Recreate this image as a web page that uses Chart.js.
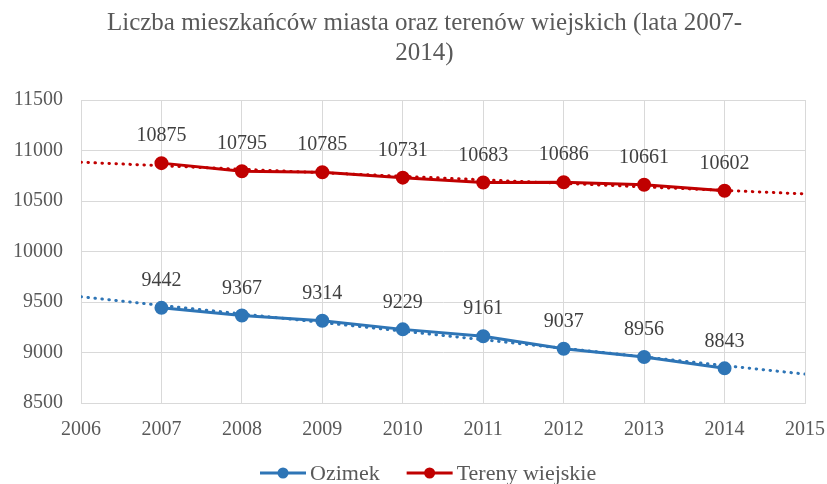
<!DOCTYPE html>
<html>
<head>
<meta charset="utf-8">
<script src="https://cdn.jsdelivr.net/npm/chart.js@4"></script>
<style>
  html, body { margin: 0; padding: 0; background: #fff; }
  #wrap { width: 827px; height: 484px; }
</style>
</head>
<body>
<div id="wrap"><canvas id="chart"></canvas></div>
<script>
// --- Dane ---
const titleLines = ['Liczba mieszkańców miasta oraz terenów wiejskich (lata 2007-', '2014)'];
const years = [2007, 2008, 2009, 2010, 2011, 2012, 2013, 2014];
const ozimek = [9442, 9367, 9314, 9229, 9161, 9037, 8956, 8843];
const tereny = [10875, 10795, 10785, 10731, 10683, 10686, 10661, 10602];

// linie trendu (od 2006 do 2015)
const trendYears = [2006, 2015];
const ozimekTrend = [9552, 8786];
const terenyTrend = [10884, 10570];

const xMin = 2006, xMax = 2015;
const yMin = 8500, yMax = 11500, yStep = 500;

const BLUE = '#2e75b6';
const RED = '#c00000';
const TEXT = '#595959';
const SERIF = '"Liberation Serif", "Times New Roman", serif';

const toPoints = (xs, ys) => xs.map((x, i) => ({ x: x, y: ys[i] }));

// etykiety danych nad punktami
const valueLabels = {
    id: 'valueLabels',
    afterDatasetsDraw(chart) {
        const ctx = chart.ctx;
        ctx.save();
        ctx.font = '20px ' + SERIF;
        ctx.fillStyle = '#404040';
        ctx.textAlign = 'center';
        ctx.textBaseline = 'middle';
        chart.data.datasets.forEach((ds, i) => {
            if (!ds.showValues) return;
            const meta = chart.getDatasetMeta(i);
            meta.data.forEach((pt, j) => {
                ctx.fillText(String(ds.data[j].y), pt.x, pt.y - 27);
            });
        });
        ctx.restore();
    }
};

// legenda rysowana ręcznie (linia z kropką jak w Excelu)
const lineLegend = {
    id: 'lineLegend',
    afterDraw(chart) {
        const ctx = chart.ctx;
        const y = 473;
        let x = 260;
        ctx.save();
        ctx.font = '22px ' + SERIF;
        ctx.textBaseline = 'middle';
        chart.data.datasets.forEach(ds => {
            if (ds.isTrend) return;
            ctx.strokeStyle = ds.borderColor;
            ctx.fillStyle = ds.borderColor;
            ctx.lineWidth = 3;
            ctx.beginPath(); ctx.moveTo(x, y); ctx.lineTo(x + 46, y); ctx.stroke();
            ctx.beginPath(); ctx.arc(x + 23, y, 5.5, 0, Math.PI * 2); ctx.fill();
            x += 50;
            ctx.fillStyle = TEXT;
            ctx.fillText(ds.label, x, y + 1);
            x += ctx.measureText(ds.label).width + 27;
        });
        ctx.restore();
    }
};

// tytuł przesunięty nieco w prawo, jak w oryginale
const titleShift = {
    id: 'titleShift',
    afterLayout(chart) {
        if (chart.titleBlock) chart.titleBlock.left += 22;
    }
};

const ctx = document.getElementById('chart').getContext('2d');
new Chart(ctx, {
    type: 'line',
    data: {
        datasets: [
            { label: 'Ozimek', data: toPoints(years, ozimek), borderColor: BLUE, backgroundColor: BLUE,
              borderWidth: 3, pointRadius: 5.5, pointHoverRadius: 5.5, showValues: true, order: 1 },
            { label: 'Tereny wiejskie', data: toPoints(years, tereny), borderColor: RED, backgroundColor: RED,
              borderWidth: 3, pointRadius: 5.5, pointHoverRadius: 5.5, showValues: true, order: 1 },
            { label: 'trend Ozimek', data: toPoints(trendYears, ozimekTrend), borderColor: BLUE,
              borderWidth: 3, borderDash: [0.5, 6.5], borderCapStyle: 'round', pointRadius: 0, order: 2, isTrend: true },
            { label: 'trend Tereny', data: toPoints(trendYears, terenyTrend), borderColor: RED,
              borderWidth: 3, borderDash: [0.5, 6.5], borderCapStyle: 'round', pointRadius: 0, order: 2, isTrend: true }
        ]
    },
    options: {
        responsive: true,
        maintainAspectRatio: false,
        animation: false,
        layout: { padding: { left: 0, right: 0, top: 0, bottom: 30 } },
        plugins: {
            title: {
                display: true,
                text: titleLines,
                color: TEXT,
                font: { family: SERIF, size: 25, weight: 'normal', lineHeight: 1.2 },
                padding: { top: 8, bottom: 32 }
            },
            legend: { display: false },
            tooltip: { enabled: false }
        },
        scales: {
            x: {
                type: 'linear',
                min: xMin, max: xMax,
                grid: { color: '#d9d9d9', drawTicks: false },
                border: { color: '#d9d9d9' },
                ticks: { stepSize: 1, padding: 15, color: TEXT, font: { family: SERIF, size: 20 },
                         callback: v => String(v) },
                afterFit(s) { s.height = 51; s.paddingRight = 22; s.paddingLeft = 0; }
            },
            y: {
                min: yMin, max: yMax,
                grid: { color: '#d9d9d9', drawTicks: false },
                border: { color: '#d9d9d9' },
                ticks: { stepSize: yStep, padding: 18, color: TEXT, font: { family: SERIF, size: 20 },
                         callback: v => String(v) },
                afterFit(s) { s.width = 81; }
            }
        }
    },
    plugins: [valueLabels, lineLegend, titleShift]
});
</script>
</body>
</html>
